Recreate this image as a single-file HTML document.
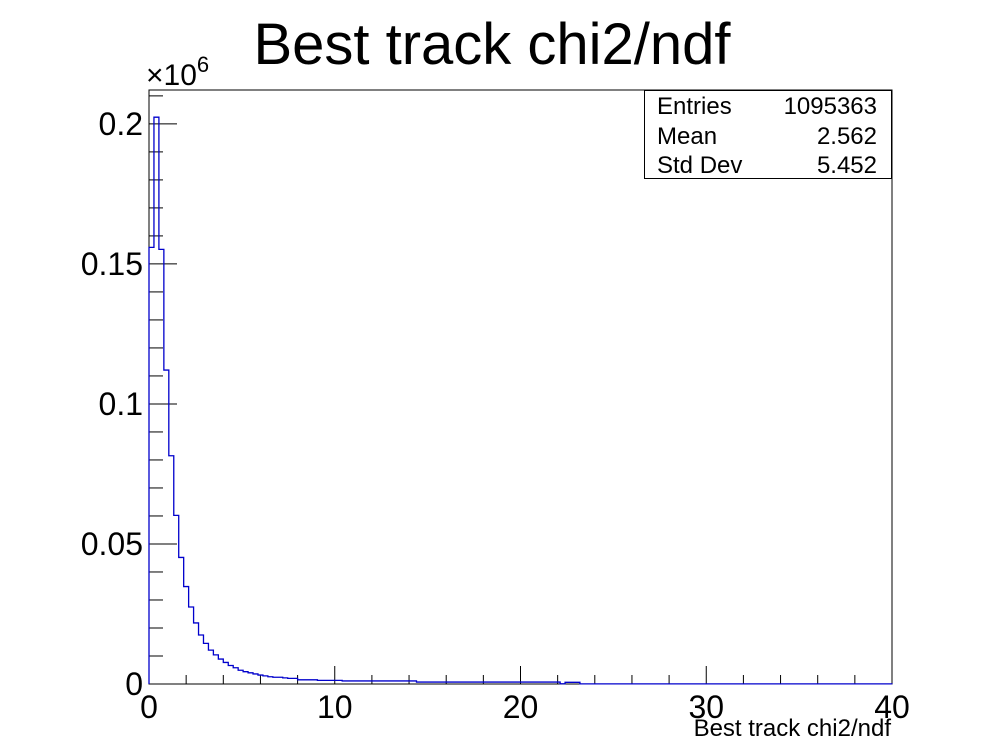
<!DOCTYPE html>
<html><head><meta charset="utf-8"><style>
html,body{margin:0;padding:0;background:#fff;}
svg{display:block;font-family:"Liberation Sans",sans-serif;}
</style></head><body>
<svg id="chart" width="992" height="744" viewBox="0 0 992 744" xmlns="http://www.w3.org/2000/svg">
<rect width="992" height="744" fill="#fff"/>
<text x="492" y="64" font-size="58" text-anchor="middle">Best track chi2/ndf</text>
<rect x="149" y="90" width="743" height="594" fill="none" stroke="#000" stroke-width="1"/>
<g id="ticks"></g>
<path id="hist" fill="none" stroke="#0000cc" stroke-width="1.3"/>
<text x="146" y="85" font-size="30">×10<tspan dy="-13" font-size="22">6</tspan></text>
<text x="891" y="736" font-size="24" text-anchor="end">Best track chi2/ndf</text>
<g>
<rect x="644.5" y="90.5" width="247" height="88" fill="#fff" stroke="#000" stroke-width="1"/>
<text x="657" y="114" font-size="24">Entries</text><text x="877" y="114" font-size="24" text-anchor="end">1095363</text>
<text x="657" y="144" font-size="24">Mean</text><text x="877" y="144" font-size="24" text-anchor="end">2.562</text>
<text x="657" y="173" font-size="24">Std Dev</text><text x="877" y="173" font-size="24" text-anchor="end">5.452</text>
</g>
</svg>
<script>
const xMin = 0, xMax = 40, nBins = 150;
const yMax = 0.2121;
const headValues = [0.1559,0.2024,0.1552,0.1121,0.0815,0.0602,0.0452,0.0348,0.0275,0.0218,0.0175,0.0145,0.0121,0.0104,0.0089,0.0077,0.0066,0.0058,0.0049,0.0044,0.0040,0.0036,0.0032,0.0029,0.0026,0.0024,0.0024,0.0022,0.0020,0.0020,0.0015,0.0015,0.0015,0.0015,0.0013,0.0013,0.0013,0.0013,0.0013,0.0011,0.0011,0.0011,0.0011,0.0011,0.0011,0.0011,0.0011,0.0011,0.0011,0.0011,0.0011,0.0011,0.0011,0.0011,0.0007,0.0007,0.0007,0.0007,0.0007,0.0007,0.0007,0.0007,0.0007,0.0007,0.0007,0.0007,0.0007,0.0007,0.0007,0.0007,0.0007,0.0007,0.0007,0.0007,0.0007,0.0007,0.0007,0.0007,0.0007,0.0007,0.0007,0.0007,0.0007,0.0001,0.0006,0.0006,0.0006];
const tailValue = [0.00005];
const xTickLabels = ["0","10","20","30","40"];
const yTickLabels = ["0","0.05","0.1","0.15","0.2"];
const yTickValues = [0,0.05,0.1,0.15,0.2];
const xTickValues = [0,10,20,30,40];

const X0=149,X1=892,Y0=684,Y1=90;
const sx = v => X0 + (v-xMin)/(xMax-xMin)*(X1-X0);
const sy = v => Y0 - v/yMax*(Y0-Y1);
const NS="http://www.w3.org/2000/svg";
const values=[];
for(let i=0;i<nBins;i++) values.push(i<headValues.length?headValues[i]:tailValue[0]);
const bw=(xMax-xMin)/nBins;
let d="M"+sx(0)+","+sy(0);
values.forEach((v,i)=>{d+=" L"+sx(i*bw)+","+sy(v)+" L"+sx((i+1)*bw)+","+sy(v);});
d+=" L"+sx(xMax)+","+sy(0);
document.getElementById('hist').setAttribute('d',d);

const g=document.getElementById('ticks');
function line(x1,y1,x2,y2,name){
  const l=document.createElementNS(NS,'line');
  l.setAttribute('x1',x1);l.setAttribute('y1',y1);l.setAttribute('x2',x2);l.setAttribute('y2',y2);
  l.setAttribute('stroke','#000');l.setAttribute('stroke-width','1');
  
  
  g.appendChild(l);
}
function text(x,y,s,anchor,name){
  const t=document.createElementNS(NS,'text');
  t.setAttribute('x',x);t.setAttribute('y',y);t.setAttribute('font-size','32');t.setAttribute('text-anchor',anchor);
  t.textContent=s;
  
  
  g.appendChild(t);
}
for(let v=0;v<=40.001;v+=2){
  const major=Math.abs(v%10)<1e-6;
  line(sx(v),Y0,sx(v),Y0-(major?18:9),'x-tick');
}
for(let k=0;k<=21;k++){
  const v=k*0.01;
  const major=k%5===0;
  line(X0,sy(v),X0+(major?28:14),sy(v),'y-tick');
}
xTickValues.forEach((v,i)=>text(sx(v),718,xTickLabels[i],'middle','x-tick-label'));
yTickValues.forEach((v,i)=>text(143,sy(v)+11,yTickLabels[i],'end','y-tick-label'));
</script>
</body></html>
